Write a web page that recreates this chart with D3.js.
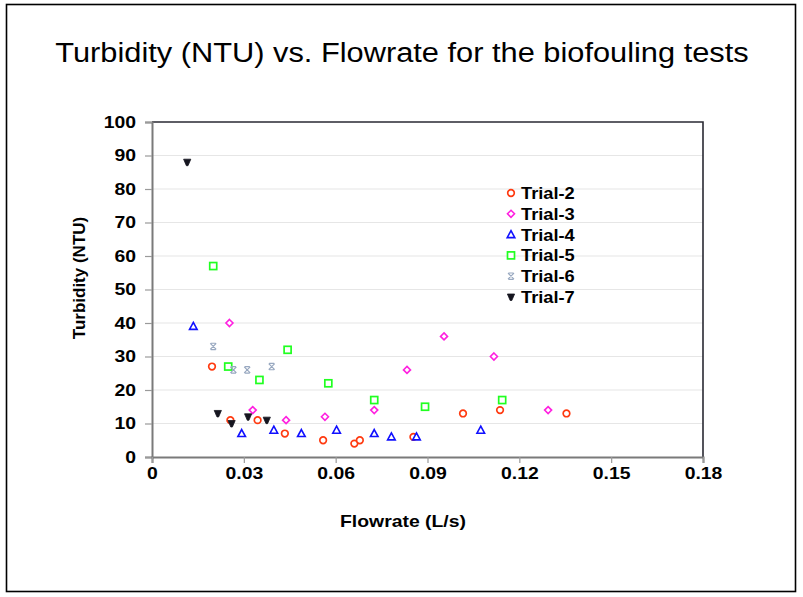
<!DOCTYPE html>
<html>
<head>
<meta charset="utf-8">
<script src="https://cdn.jsdelivr.net/npm/d3@7/dist/d3.min.js"></script>
<style>
  html, body { margin: 0; padding: 0; background: #fff; }
  svg { display: block; }
  text { font-family: Arial, "Liberation Sans", sans-serif; }
</style>
</head>
<body>
<svg id="chart" width="803" height="597"></svg>
<script>
// ---- Data ----
const title = "Turbidity (NTU) vs. Flowrate for the biofouling tests";
const xLabel = "Flowrate (L/s)";
const yLabel = "Turbidity (NTU)";
const xTicks = [0, 0.03, 0.06, 0.09, 0.12, 0.15, 0.18];
const xTickLabels = ["0", "0.03", "0.06", "0.09", "0.12", "0.15", "0.18"];
const yTicks = [0, 10, 20, 30, 40, 50, 60, 70, 80, 90, 100];
const seriesNames = ["Trial-2", "Trial-3", "Trial-4", "Trial-5", "Trial-6", "Trial-7"];

const trial2X = [0.0196, 0.0256, 0.0345, 0.0434, 0.0559, 0.0661, 0.0679, 0.0854, 0.1016, 0.1137, 0.1354];
const trial2Y = [27, 11, 11, 7, 5, 4, 5, 6, 13, 14, 13];
const trial3X = [0.0253, 0.0329, 0.0438, 0.0565, 0.0726, 0.0833, 0.0954, 0.1117, 0.1294];
const trial3Y = [40, 14, 11, 12, 14, 26, 36, 30, 14];
const trial4X = [0.0135, 0.0293, 0.0398, 0.0488, 0.0603, 0.0726, 0.0782, 0.0864, 0.1074];
const trial4Y = [39, 7, 8, 7, 8, 7, 6, 6, 8];
const trial5X = [0.0200, 0.0249, 0.0351, 0.0443, 0.0576, 0.0726, 0.0892, 0.1144];
const trial5Y = [57, 27, 23, 32, 22, 17, 15, 17];
const trial6X = [0.0200, 0.0266, 0.0311, 0.0391];
const trial6Y = [33, 26, 26, 27];
const trial7X = [0.0115, 0.0215, 0.0260, 0.0314, 0.0375];
const trial7Y = [88, 13, 10, 12, 11];

const seriesX = [trial2X, trial3X, trial4X, trial5X, trial6X, trial7X];
const seriesY = [trial2Y, trial3Y, trial4Y, trial5Y, trial6Y, trial7Y];

// ---- Styles ----
const colors = ["#ff3a10", "#ff20e0", "#1010ff", "#20ff20", "#98a8c0", "#15151f"];
const markerTypes = ["circle", "diamond", "triangle", "square", "asterisk", "down"];
const STRETCH = 1.14; // reference text is slightly wider than Liberation Sans

function stretch(sel) {
  sel.each(function () {
    const len = this.getComputedTextLength();
    if (len > 0) {
      d3.select(this).attr("textLength", len * STRETCH).attr("lengthAdjust", "spacingAndGlyphs");
    }
  });
}

const svg = d3.select("#chart");
const W = 803, H = 597;
const margin = { left: 152, right: 100, top: 122, bottom: 140 };
const plotW = W - margin.left - margin.right; // 551
const plotH = H - margin.top - margin.bottom; // 335

// outer frame
svg.append("rect")
  .attr("x", 6.5).attr("y", 4.5).attr("width", 789).attr("height", 587)
  .attr("fill", "#fff").attr("stroke", "#000").attr("stroke-width", 1.6);

// title
svg.append("text")
  .attr("x", 402).attr("y", 62)
  .attr("text-anchor", "middle")
  .attr("font-size", 27)
  .attr("fill", "#000")
  .text(title)
  .call(stretch);

const x = d3.scaleLinear().domain([0, 0.18]).range([margin.left, margin.left + plotW]);
const y = d3.scaleLinear().domain([0, 100]).range([margin.top + plotH, margin.top]);

const g = svg.append("g");

// gridlines
g.selectAll("line.grid")
  .data(yTicks.filter(t => t > 0 && t < 100))
  .enter().append("line")
  .attr("class", "grid")
  .attr("x1", x(0)).attr("x2", x(0.18))
  .attr("y1", d => y(d)).attr("y2", d => y(d))
  .attr("stroke", "#e6e6e6").attr("stroke-width", 1.2);

// top & right border
g.append("path")
  .attr("d", `M${x(0)},${y(100)}H${x(0.18)}V${y(0)}`)
  .attr("fill", "none").attr("stroke", "#2a2a33").attr("stroke-width", 1.6);

// y axis
const yAxis = d3.axisLeft(y).tickValues(yTicks).tickSize(7).tickPadding(9).tickFormat(d3.format("d"));
const yG = svg.append("g").attr("transform", `translate(${x(0)},0)`).call(yAxis);
yG.select(".domain").attr("stroke", "#7a7a7a").attr("stroke-width", 2);
yG.selectAll(".tick line").attr("stroke", "#9a9a9a").attr("stroke-width", 1.2);
yG.selectAll(".tick text")
  .attr("font-size", 17).attr("font-weight", "bold").attr("fill", "#000")
  .attr("font-family", "Arial, 'Liberation Sans', sans-serif")
  .call(stretch);

// x axis
const xAxis = d3.axisBottom(x).tickValues(xTicks).tickSize(6).tickPadding(4)
  .tickFormat((d, i) => xTickLabels[i]);
const xG = svg.append("g").attr("transform", `translate(0,${y(0)})`).call(xAxis);
xG.select(".domain").attr("stroke", "#7a7a7a").attr("stroke-width", 2);
xG.selectAll(".tick line").attr("stroke", "#9a9a9a").attr("stroke-width", 1.2);
xG.selectAll(".tick text")
  .attr("font-size", 17).attr("font-weight", "bold").attr("fill", "#000")
  .attr("font-family", "Arial, 'Liberation Sans', sans-serif")
  .call(stretch);

// axis titles
svg.append("text")
  .attr("x", 403).attr("y", 527)
  .attr("text-anchor", "middle")
  .attr("font-size", 17).attr("font-weight", "bold")
  .text(xLabel)
  .call(stretch);
svg.append("text")
  .attr("transform", "translate(85,278) rotate(-90)")
  .attr("text-anchor", "middle")
  .attr("font-size", 17).attr("font-weight", "bold")
  .text(yLabel);

// marker drawing
function drawMarker(sel, type, color) {
  if (type === "circle") {
    sel.append("circle").attr("r", 3.3)
      .attr("fill", "#fff").attr("stroke", color).attr("stroke-width", 1.7);
  } else if (type === "diamond") {
    sel.append("path").attr("d", "M0,-3.5L3.5,0L0,3.5L-3.5,0Z")
      .attr("fill", "#fff").attr("stroke", color).attr("stroke-width", 1.6);
  } else if (type === "triangle") {
    sel.append("path").attr("d", "M0,-4L3.8,3L-3.8,3Z")
      .attr("fill", "#fff").attr("stroke", color).attr("stroke-width", 1.6);
  } else if (type === "square") {
    sel.append("rect").attr("x", -3.5).attr("y", -3.5).attr("width", 7).attr("height", 7)
      .attr("fill", "#fff").attr("stroke", color).attr("stroke-width", 1.7);
  } else if (type === "asterisk") {
    sel.append("path").attr("d", "M-3,-3L3,3M-3,3L3,-3M-2.5,-3.2H2.5M-2.5,3.2H2.5")
      .attr("fill", "none").attr("stroke", color).attr("stroke-width", 1.2);
  } else if (type === "down") {
    sel.append("path").attr("d", "M-3.6,-3L3.6,-3L0.8,3.5L-0.8,3.5Z")
      .attr("fill", color).attr("stroke", color).attr("stroke-width", 0.8);
  }
}

// points
seriesNames.forEach((name, si) => {
  const pts = seriesX[si].map((xv, i) => ({ x: xv, y: seriesY[si][i] }));
  const sg = svg.append("g").attr("class", "series-" + si);
  sg.selectAll("g.pt").data(pts).enter().append("g")
    .attr("class", "pt")
    .attr("transform", d => `translate(${x(d.x)},${y(d.y)})`)
    .each(function () { drawMarker(d3.select(this), markerTypes[si], colors[si]); });
});

// legend
const legend = svg.append("g").attr("transform", "translate(511,193)");
seriesNames.forEach((name, i) => {
  const row = legend.append("g").attr("transform", `translate(0,${i * 20.8})`);
  drawMarker(row, markerTypes[i], colors[i]);
  row.append("text")
    .attr("x", 10).attr("y", 6)
    .attr("font-size", 16).attr("font-weight", "bold").attr("fill", "#000")
    .text(name)
    .call(stretch);
});
</script>
</body>
</html>
